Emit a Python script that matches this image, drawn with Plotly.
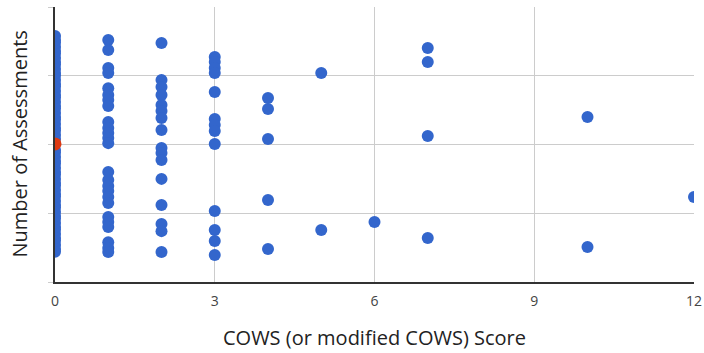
import plotly.graph_objects as go

# COWS score columns and the vertical position (0-100 scale) of each assessment
x0_vals = [11, 12, 13.5, 15, 16, 17.5, 19, 20, 21.5, 23, 24, 25.5, 27, 28, 29.5, 31, 32, 33.5,
           35, 36, 37.5, 39, 40, 41.5, 43, 44, 45.5, 47, 48, 52, 53.5, 55, 56, 57.5, 59, 60,
           61.5, 63, 64, 65.5, 67, 68, 69.5, 71, 72, 73.5, 75, 76, 77.5, 79, 80, 81.5, 83, 84,
           85.5, 87, 88, 89.5]
x1_vals = [88.0, 84.4, 77.8, 76.0, 70.5, 68.0, 66.2, 64.0, 58.2, 56.0, 54.2, 52.4, 50.5, 40.0,
           37.1, 34.9, 33.1, 30.9, 28.7, 23.6, 21.8, 20.0, 14.5, 12.4, 10.9]
x2_vals = [86.9, 73.5, 70.9, 68.0, 64.4, 62.2, 59.6, 55.3, 48.7, 46.9, 44.4, 37.5, 28.0, 21.1,
           18.5, 10.9]
x3_vals = [81.8, 80.0, 77.8, 76.0, 69.1, 59.3, 57.1, 54.9, 50.2, 25.8, 18.9, 14.9, 9.8]
x4_vals = [66.9, 62.9, 52.0, 29.8, 12.0]
x5_vals = [76.0, 18.9]
x6_vals = [21.8]
x7_vals = [85.1, 80.0, 53.1, 16.0]
x10_vals = [60.0, 12.7]
x12_vals = [30.9]

highlight_x = [0]
highlight_y = [50.2]

x_ticks = [0, 3, 6, 9, 12]
x_title = "COWS (or modified COWS) Score"
y_title = "Number of Assessments"

columns = [(0, x0_vals), (1, x1_vals), (2, x2_vals), (3, x3_vals), (4, x4_vals),
           (5, x5_vals), (6, x6_vals), (7, x7_vals), (10, x10_vals), (12, x12_vals)]

xs, ys = [], []
for score, vals in columns:
    for v in vals:
        xs.append(score)
        ys.append(v)

fig = go.Figure()
fig.add_trace(go.Scatter(x=xs, y=ys, mode="markers",
                         marker=dict(color="#3366CC", size=12, line=dict(width=0)),
                         cliponaxis=True, showlegend=False))
fig.add_trace(go.Scatter(x=highlight_x, y=highlight_y, mode="markers",
                         marker=dict(color="#DC3912", size=13, line=dict(width=0)),
                         cliponaxis=True, showlegend=False))

fig.update_layout(
    width=704, height=353,
    margin=dict(l=55, r=10, t=7, b=71, autoexpand=False),
    paper_bgcolor="white", plot_bgcolor="white",
    font=dict(family="Open Sans", color="#222"),
    xaxis=dict(range=[0, 12], tickvals=x_ticks, ticktext=[str(t) for t in x_ticks],
               showgrid=True, gridcolor="#cccccc", gridwidth=1, zeroline=False,
               showline=True, linecolor="#333333", linewidth=1.5, mirror=False,
               ticks="", tickfont=dict(size=14, color="#444"), ticklabelstandoff=5,
               automargin=False, fixedrange=True),
    yaxis=dict(range=[0, 100], dtick=25, showticklabels=False, showgrid=True,
               gridcolor="#cccccc", gridwidth=1, zeroline=False,
               showline=True, linecolor="#333333", linewidth=1.5,
               ticks="outside", ticklen=5, tickcolor="#cccccc",
               automargin=False, fixedrange=True),
    annotations=[
        dict(text=x_title, xref="paper", yref="paper", x=0.5, y=0, xanchor="center",
             yanchor="middle", yshift=-55, showarrow=False,
             font=dict(size=20, color="#222", family="Open Sans")),
        dict(text=y_title, xref="paper", yref="paper", x=0, y=0.5, xanchor="center",
             yanchor="middle", xshift=-36, textangle=-90, showarrow=False,
             font=dict(size=20, color="#222", family="Open Sans")),
    ],
)

fig.write_html("out.html", config={"displayModeBar": False},
               post_script="document.body.style.margin='0';")
